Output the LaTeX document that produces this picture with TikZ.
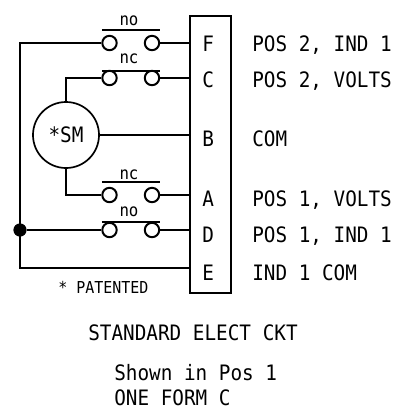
\documentclass[tikz,border=0pt]{standalone}
\usepackage{fontspec}
\setmainfont[FakeStretch=0.91]{DejaVu Sans Mono}
\usetikzlibrary{calc, positioning}
\tikzset{
	every node/.style={
		font=\fontsize{15.1pt}{17pt}\selectfont
	},
	wire/.style={
		line width=1.4pt
	},
	contact/.style={
		shape=circle,
		draw,
		line width=1.4pt,
		minimum size=0.36cm,
		inner sep=0pt
	},
	pinlabel/.style={
		anchor=base west,
		inner sep=0pt
	},
	smalllabel/.style={
		anchor=base,
		inner sep=0pt,
		font=\fontsize{12.3pt}{14pt}\selectfont
	},
	motor/.style={
		shape=circle,
		draw,
		line width=1.2pt,
		minimum size=1.65cm,
		inner sep=0pt
	},
	connector/.style={
		shape=rectangle,
		draw,
		line width=1.2pt,
		minimum width=1.025cm,
		minimum height=6.925cm,
		inner sep=0pt
	},
	junction/.style={
		shape=circle,
		fill=black,
		minimum size=0.33cm,
		inner sep=0pt
	}
}

\begin{document}
\begin{tikzpicture}[x=0.025cm, y=-0.025cm]
	
	\useasboundingbox (0,0) rectangle (417,409);
	
	\node[connector] (block) at (210.5,154.5) {};
	\node[motor] (sm) at (66,135) {*SM};
	
	% pins and what they are for
	\foreach \name/\y/\txt in {
			F/51/{POS 2, IND 1},
			C/87/{POS 2, VOLTS},
			B/146/{COM},
			A/206/{POS 1, VOLTS},
			D/242/{POS 1, IND 1},
			E/280/{IND 1 COM}
		} {
			\node[pinlabel] (pin\name) at (202,\y) {\name};
			\node[pinlabel] (txt\name) at (252,\y) {\txt};
		}
	
	% switches
	\foreach \name/\y/\bar/\kind/\base in {
			F/43/13/no/25,
			C/78/7/nc/63,
			A/195/13/nc/179,
			D/230/8/no/216
		} {
			\node[contact] (left\name) at (109.5,\y) {};
			\node[contact] (right\name) at (152,\y) {};
			\node[smalllabel] (kind\name) at (129,\base) {\kind};
			\coordinate (barl\name) at (102,\y-\bar);
			\coordinate (barr\name) at (160,\y-\bar);
			\coordinate (end\name) at (block.west |- left\name);
			\draw[wire] (barl\name) -- (barr\name);
			\draw[wire] (right\name) -- (end\name);
		}
	
	\coordinate (corner) at (20,43);
	\coordinate (cornerb) at (20,268);
	\coordinate (endB) at (block.west |- sm);
	\coordinate (endE) at (block.west |- cornerb);
	\node[junction] (dot) at (20,230) {};
	
	\draw[wire] (leftF) -- (corner) -- (cornerb) -- (endE);
	\draw[wire] (dot) -- (leftD);
	\draw[wire] (sm.east) -- (endB);
	\draw[wire] (leftC) -| (sm.north);
	\draw[wire] (leftA) -| (sm.south);
	
	\node[smalllabel, anchor=base west, font=\fontsize{11.7pt}{14pt}\selectfont] (patented) at (58,293) {* PATENTED};
	\node[pinlabel] (title) at (88,340) {STANDARD ELECT CKT};
	\node[pinlabel] (shown) at (114,380) {Shown in Pos 1};
	\node[pinlabel] (form) at (114,405) {ONE FORM C};
	
\end{tikzpicture}
\end{document}
